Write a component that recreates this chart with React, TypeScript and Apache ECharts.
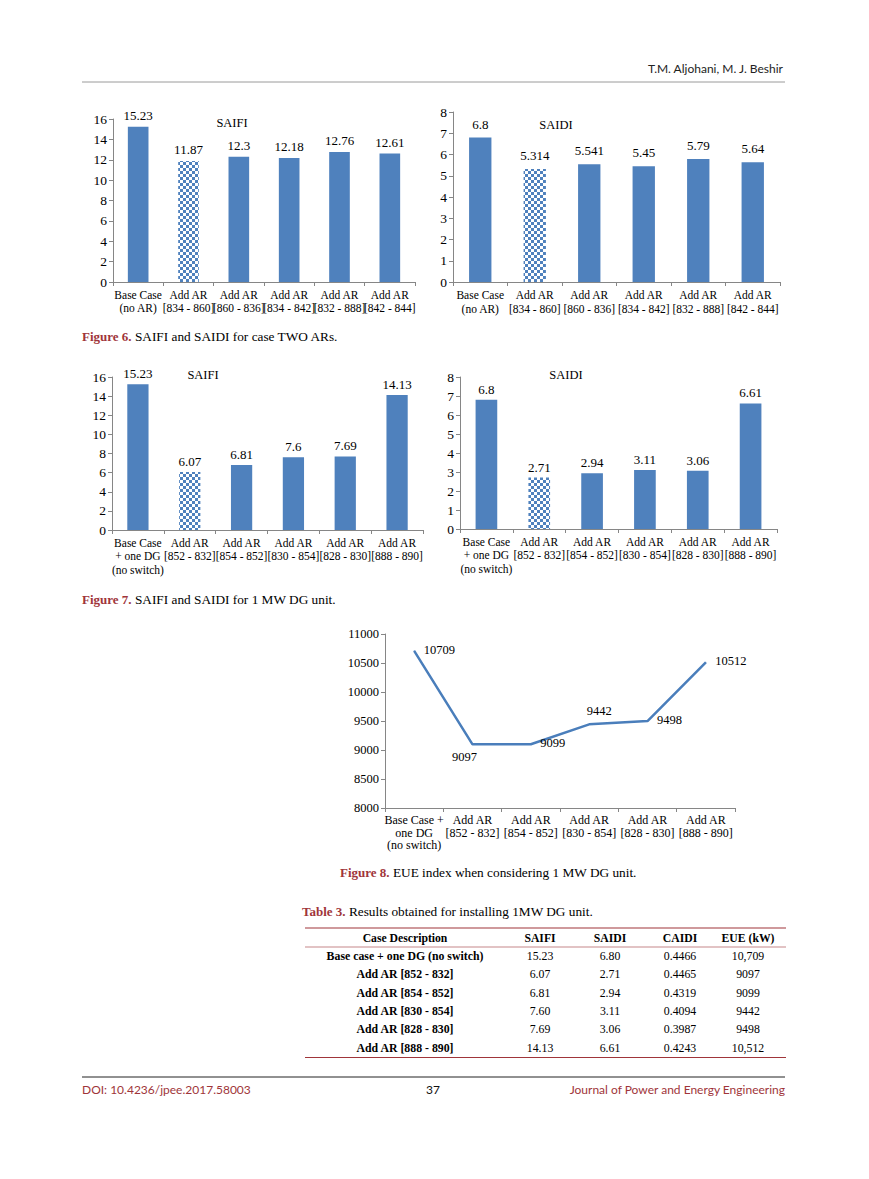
import React, { useEffect, useRef } from 'react';
import * as echarts from 'echarts';

const SERIF = '"Liberation Serif", "Times New Roman", serif';
const SANS = 'Lato, "Open Sans", sans-serif';
const BLUE = '#4F81BD';
const LINE_BLUE = '#4A7EBB';
const MAROON = '#A0353A';
const AXIS = '#868686';

// ---- Figure 6 data ----
const catsTwoAR = [
  'Base Case\n(no AR)',
  'Add AR\n[834 - 860]',
  'Add AR\n[860 - 836]',
  'Add AR\n[834 - 842]',
  'Add AR\n[832 - 888]',
  'Add AR\n[842 - 844]',
];
const saifiTwoAR = [15.23, 11.87, 12.3, 12.18, 12.76, 12.61];
const saidiTwoAR = [6.8, 5.314, 5.541, 5.45, 5.79, 5.64];

// ---- Figure 7 data ----
const catsDG = [
  'Base Case\n+ one DG\n(no switch)',
  'Add AR\n[852 - 832]',
  'Add AR\n[854 - 852]',
  'Add AR\n[830 - 854]',
  'Add AR\n[828 - 830]',
  'Add AR\n[888 - 890]',
];
const saifiDG = [15.23, 6.07, 6.81, 7.6, 7.69, 14.13];
const saidiDG = [6.8, 2.71, 2.94, 3.11, 3.06, 6.61];

// ---- Figure 8 data ----
const catsEUE = [
  'Base Case +\none DG\n(no switch)',
  'Add AR\n[852 - 832]',
  'Add AR\n[854 - 852]',
  'Add AR\n[830 - 854]',
  'Add AR\n[828 - 830]',
  'Add AR\n[888 - 890]',
];
const eueValues = [10709, 9097, 9099, 9442, 9498, 10512];
const eueLabelPos = ['right', 'bottom', 'right', 'top', 'right', 'right'];

// highlighted (checkered) bar
const CHECKER_INDEX = 1;

// ---- Table 3 data ----
const tableHeader = ['Case Description', 'SAIFI', 'SAIDI', 'CAIDI', 'EUE (kW)'];
const tableCases = [
  'Base case + one DG (no switch)',
  'Add AR [852 - 832]',
  'Add AR [854 - 852]',
  'Add AR [830 - 854]',
  'Add AR [828 - 830]',
  'Add AR [888 - 890]',
];
const tableSaifi = ['15.23', '6.07', '6.81', '7.60', '7.69', '14.13'];
const tableSaidi = ['6.80', '2.71', '2.94', '3.11', '3.06', '6.61'];
const tableCaidi = ['0.4466', '0.4465', '0.4319', '0.4094', '0.3987', '0.4243'];
const tableEue = ['10,709', '9097', '9099', '9442', '9498', '10,512'];

function barData(values: number[]) {
  return values.map((v, i) =>
    i === CHECKER_INDEX
      ? {
          value: v,
          itemStyle: {
            color: '#ffffff',
            decal: {
              symbol: 'rect',
              symbolSize: 1,
              color: BLUE,
              dashArrayX: [
                [3, 3],
                [0, 3, 3, 0],
              ],
              dashArrayY: [3, 0],
            },
          },
        }
      : v
  );
}

function xAxisFor(gridIndex: number, data: string[], fontSize: number, lineHeight: number) {
  return {
    type: 'category',
    gridIndex,
    data,
    axisLine: { lineStyle: { color: AXIS, width: 1 } },
    axisTick: { show: true, length: 4, alignWithLabel: false, lineStyle: { color: AXIS } },
    axisLabel: {
      interval: 0,
      color: '#000',
      fontFamily: SERIF,
      fontSize,
      lineHeight,
      margin: 6,
    },
  };
}

function yAxisFor(gridIndex: number, min: number, max: number, interval: number, fontSize: number) {
  return {
    type: 'value',
    gridIndex,
    min,
    max,
    interval,
    axisLine: { show: true, lineStyle: { color: AXIS, width: 1 } },
    axisTick: { show: true, length: 4, lineStyle: { color: AXIS } },
    splitLine: { show: false },
    axisLabel: {
      color: '#000',
      fontFamily: SERIF,
      fontSize,
      margin: 6,
      formatter: (v: number) => String(v),
    },
  };
}

function barSeries(idx: number, values: number[], distance: number) {
  return {
    type: 'bar',
    xAxisIndex: idx,
    yAxisIndex: idx,
    data: barData(values),
    barWidth: '41%',
    itemStyle: { color: BLUE },
    label: {
      show: true,
      position: 'top',
      distance,
      color: '#000',
      fontFamily: SERIF,
      fontSize: 13,
    },
  };
}

function txt(text: string, x: number, y: number, extra: any = {}) {
  return {
    type: 'text',
    x,
    y,
    silent: true,
    style: {
      text,
      fill: extra.fill || '#000',
      fontFamily: extra.fontFamily || SERIF,
      fontSize: extra.fontSize || 12,
      fontWeight: extra.fontWeight || 'normal',
      textAlign: extra.align || 'left',
      textVerticalAlign: 'middle',
    },
  };
}

function caption(label: string, rest: string, x: number, y: number) {
  return {
    type: 'text',
    x,
    y,
    silent: true,
    style: {
      text: `{a|${label}} {b|${rest}}`,
      textVerticalAlign: 'middle',
      rich: {
        a: { fill: MAROON, fontFamily: SERIF, fontSize: 13, fontWeight: 'bold' },
        b: { fill: '#000', fontFamily: SERIF, fontSize: 13.3 },
      },
    },
  };
}

function hline(x1: number, x2: number, y: number, color: string, width: number) {
  return {
    type: 'line',
    silent: true,
    shape: { x1, y1: y, x2, y2: y },
    style: { stroke: color, lineWidth: width },
  };
}

export default function App() {
  const ref = useRef<HTMLDivElement>(null);

  useEffect(() => {
    const chart = echarts.init(ref.current!, null, { renderer: 'svg' });

    const tableCols = [405, 540, 610, 680, 748];
    const rowYs = [956, 974.3, 992.7, 1011, 1029.3, 1047.7];
    const tableGraphics: any[] = [];
    tableHeader.forEach((h, c) => {
      tableGraphics.push(txt(h, tableCols[c], 938, { align: 'center', fontWeight: 'bold', fontSize: 11.7 }));
    });
    tableCases.forEach((name, r) => {
      const y = rowYs[r];
      tableGraphics.push(txt(name, tableCols[0], y, { align: 'center', fontWeight: 'bold', fontSize: 11.8 }));
      tableGraphics.push(txt(tableSaifi[r], tableCols[1], y, { align: 'center', fontSize: 11.8 }));
      tableGraphics.push(txt(tableSaidi[r], tableCols[2], y, { align: 'center', fontSize: 11.8 }));
      tableGraphics.push(txt(tableCaidi[r], tableCols[3], y, { align: 'center', fontSize: 11.8 }));
      tableGraphics.push(txt(tableEue[r], tableCols[4], y, { align: 'center', fontSize: 11.8 }));
    });

    const option: any = {
      animation: false,
      backgroundColor: '#ffffff',
      grid: [
        { left: 113, top: 119, width: 302, height: 163 },
        { left: 453, top: 112, width: 327, height: 170 },
        { left: 112, top: 377, width: 311, height: 153 },
        { left: 460, top: 377, width: 317, height: 152 },
        { left: 385, top: 634, width: 350, height: 174 },
      ],
      xAxis: [
        xAxisFor(0, catsTwoAR, 11.5, 13),
        xAxisFor(1, catsTwoAR, 11.5, 14),
        xAxisFor(2, catsDG, 11.5, 13.5),
        xAxisFor(3, catsDG, 11.5, 13.5),
        xAxisFor(4, catsEUE, 12, 12.5),
      ],
      yAxis: [
        yAxisFor(0, 0, 16, 2, 13.5),
        yAxisFor(1, 0, 8, 1, 13.5),
        yAxisFor(2, 0, 16, 2, 13.5),
        yAxisFor(3, 0, 8, 1, 13.5),
        yAxisFor(4, 8000, 11000, 500, 12.5),
      ],
      series: [
        barSeries(0, saifiTwoAR, 5),
        barSeries(1, saidiTwoAR, 7),
        barSeries(2, saifiDG, 4),
        barSeries(3, saidiDG, 4),
        {
          type: 'line',
          xAxisIndex: 4,
          yAxisIndex: 4,
          data: eueValues.map((v, i) => ({
            value: v,
            label: {
              position: eueLabelPos[i],
              distance: eueLabelPos[i] === 'right' ? 9 : 6,
              offset: eueLabelPos[i] === 'bottom' ? [-8, 0] : eueLabelPos[i] === 'top' ? [10, 0] : [0, -1],
            },
          })),
          showSymbol: true,
          symbol: 'circle',
          symbolSize: 1,
          itemStyle: { color: LINE_BLUE },
          lineStyle: { color: LINE_BLUE, width: 2.5 },
          label: { show: true, color: '#000', fontFamily: SERIF, fontSize: 12.5 },
        },
      ],
      graphic: [
        // header
        txt('T.M. Aljohani, M. J. Beshir', 783, 68, { align: 'right', fontFamily: SANS, fontSize: 12, fill: '#222' }),
        hline(82, 785, 82, '#9a9a9a', 1),
        // chart titles
        txt('SAIFI', 232, 123, { align: 'center', fontSize: 12.5 }),
        txt('SAIDI', 556, 125, { align: 'center', fontSize: 12.5 }),
        txt('SAIFI', 203, 375, { align: 'center', fontSize: 12.5 }),
        txt('SAIDI', 566, 375, { align: 'center', fontSize: 12.5 }),
        // captions
        caption('Figure 6.', 'SAIFI and SAIDI for case TWO ARs.', 82, 336),
        caption('Figure 7.', 'SAIFI and SAIDI for 1 MW DG unit.', 82, 599),
        caption('Figure 8.', 'EUE index when considering 1 MW DG unit.', 340, 872),
        caption('Table 3.', 'Results obtained for installing 1MW DG unit.', 302, 911),
        // table
        hline(305, 786, 928, MAROON, 1.2),
        hline(305, 786, 947, MAROON, 0.6),
        hline(305, 786, 1057.5, MAROON, 1.2),
        ...tableGraphics,
        // footer
        hline(82, 785, 1077, '#222', 1),
        txt('DOI: 10.4236/jpee.2017.58003', 82, 1089, { fontFamily: SANS, fontSize: 12, fill: MAROON }),
        txt('37', 433, 1089, { align: 'center', fontFamily: SANS, fontSize: 12, fill: '#111' }),
        txt('Journal of Power and Energy Engineering', 785, 1089, { align: 'right', fontFamily: SANS, fontSize: 12, fill: MAROON }),
      ],
    };

    chart.setOption(option);
    return () => chart.dispose();
  }, []);

  return (
    <div
      ref={ref}
      style={{ position: 'absolute', left: 0, top: 0, width: 869, height: 1179, background: '#fff' }}
    />
  );
}
